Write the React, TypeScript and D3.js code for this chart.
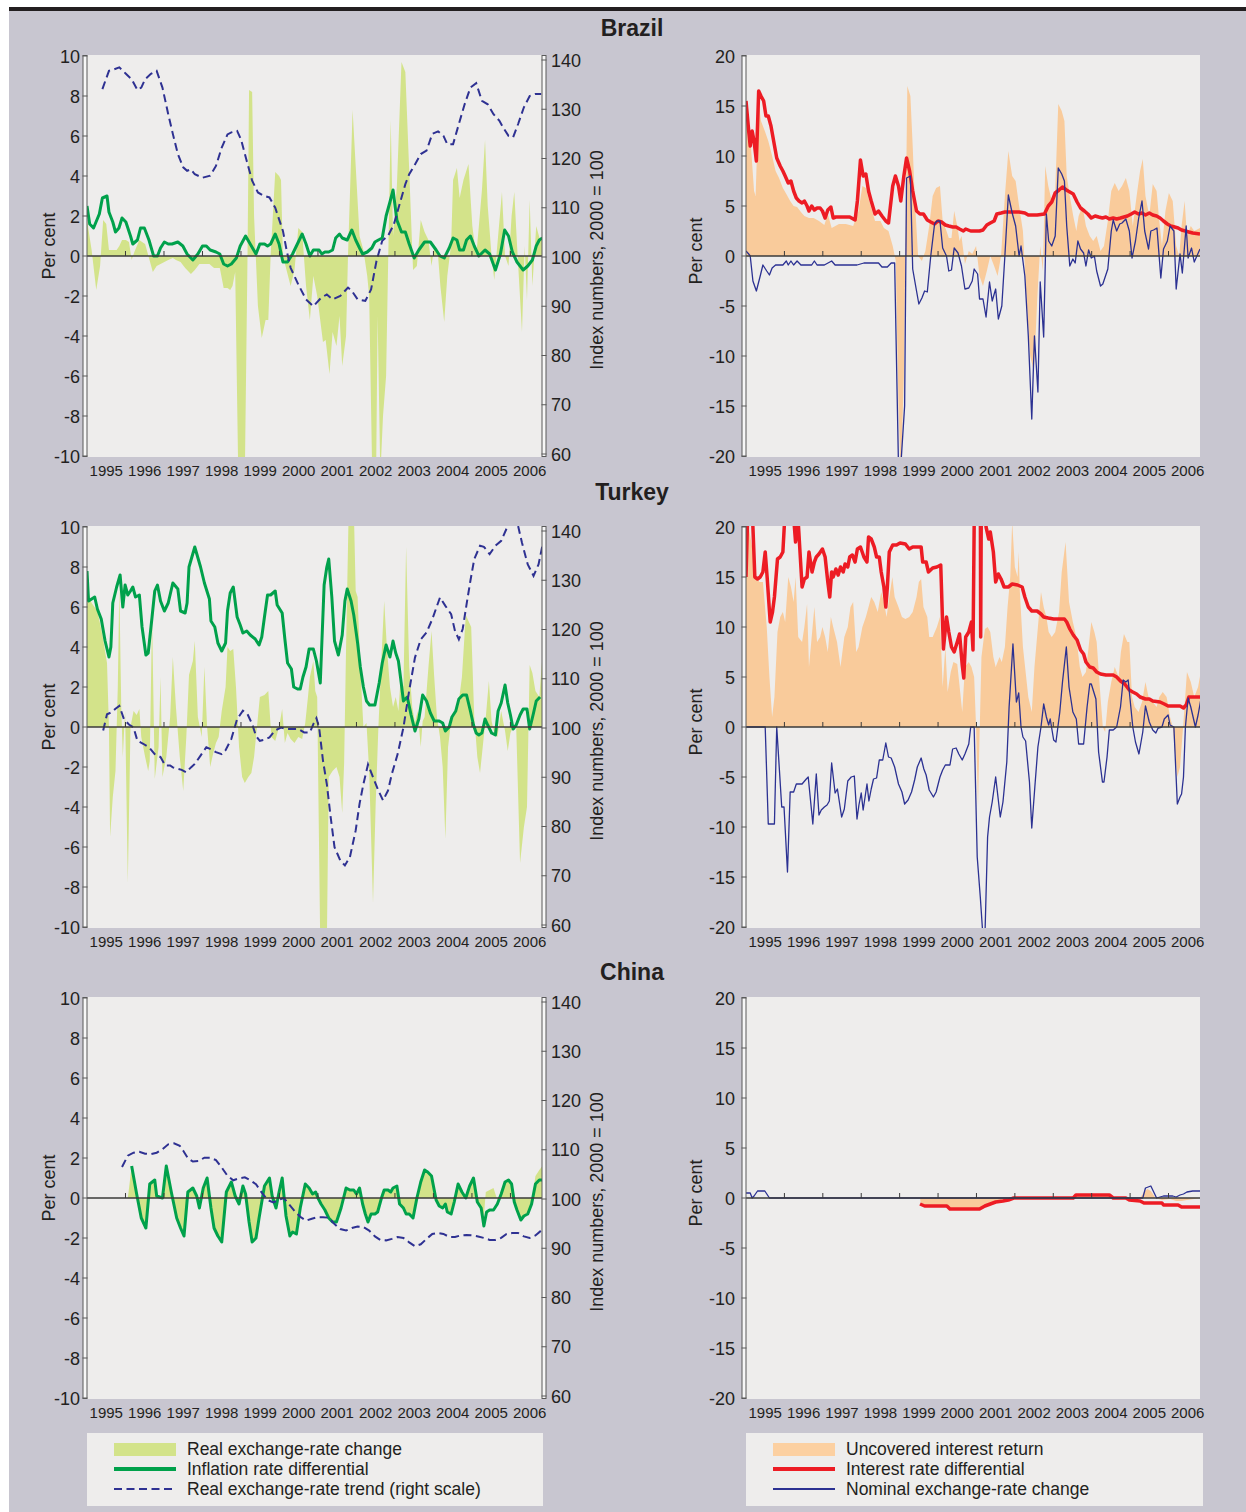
import { useEffect, useRef } from 'react';
import * as d3 from 'd3';

// each point: [years since Jan 1995, value]
type Pt = [number, number];

const YEARS = [1995, 1996, 1997, 1998, 1999, 2000, 2001, 2002, 2003, 2004, 2005, 2006];
const T_END = 11.82;
const PCT_TICKS = [-10, -8, -6, -4, -2, 0, 2, 4, 6, 8, 10];
const INDEX_TICKS = [60, 70, 80, 90, 100, 110, 120, 130, 140];
const RATE_TICKS = [-20, -15, -10, -5, 0, 5, 10, 15, 20];
const COUNTRIES = ['Brazil', 'Turkey', 'China'];

const LEFT_LEGEND = ['Real exchange-rate change', 'Inflation rate differential', 'Real exchange-rate trend (right scale)'];
const RIGHT_LEGEND = ['Uncovered interest return', 'Interest rate differential', 'Nominal exchange-rate change'];

// ── Brazil ─────────────────────────────────────────────
const brazilRealChange: Pt[] = [[0,1.8],[0.12,0.3],[0.24,-1.7],[0.34,-0.5],[0.42,1.8],[0.5,1.6],[0.57,0.3],[0.67,0.3],[0.77,0.3],[0.84,0.5],[0.91,0.8],[1.01,0.8],[1.09,0.7],[1.16,-0.2],[1.23,0.2],[1.36,0.8],[1.43,0.7],[1.51,0.6],[1.61,-0.1],[1.71,-0.8],[1.81,-0.5],[1.91,-0.4],[2.01,-0.3],[2.11,-0.2],[2.23,-0.1],[2.31,-0.2],[2.43,-0.3],[2.55,-0.6],[2.7,-0.9],[2.8,-0.7],[2.92,-0.4],[3.05,-0.4],[3.18,-0.4],[3.3,-0.6],[3.45,-0.6],[3.55,-1.6],[3.65,-1.6],[3.72,-1.7],[3.78,-1.5],[3.85,-0.8],[3.93,-11],[4.1,-11],[4.17,0],[4.21,8.3],[4.29,8.2],[4.34,2],[4.44,-2.5],[4.54,-4.1],[4.64,-3.2],[4.71,-3.2],[4.77,0],[4.89,4.2],[4.99,4],[5.04,3.8],[5.09,0],[5.29,-1.5],[5.39,-0.7],[5.49,1.4],[5.59,1.2],[5.69,-1.5],[5.79,-3.2],[5.88,-1],[5.98,-2],[6.13,-4.3],[6.2,-4.2],[6.3,-5.9],[6.38,-3.8],[6.48,-4.5],[6.56,-3],[6.63,-5.5],[6.73,-4],[6.78,0],[6.9,7.3],[6.98,4.5],[7.08,1],[7.18,0.3],[7.28,-1],[7.33,-2],[7.41,-11],[7.51,-11],[7.55,-3],[7.62,-11],[7.69,-8],[7.77,-6],[7.89,6.8],[7.95,1],[8.05,3.5],[8.17,9.7],[8.27,9.2],[8.37,4.3],[8.47,-0.7],[8.57,-0.5],[8.67,1.8],[8.77,1.2],[8.87,0.8],[8.95,-0.5],[9.02,0.5],[9.12,0],[9.18,-1.5],[9.28,-3.3],[9.36,-1],[9.46,0.6],[9.51,3.8],[9.61,4.4],[9.68,2.9],[9.78,3.8],[9.91,4.6],[10.01,1.5],[10.11,0],[10.18,1.5],[10.26,3.3],[10.34,5.8],[10.41,2.5],[10.51,0],[10.58,-1.2],[10.68,1],[10.78,3.2],[10.86,0],[10.95,-0.5],[11.03,2],[11.1,3.2],[11.17,0.6],[11.3,-3.8],[11.37,0.5],[11.43,-2.2],[11.5,2.8],[11.57,-1.5],[11.67,1.5],[11.77,0.8],[11.83,0.9]];
const brazilInflationDiff: Pt[] = [[0,2.5],[0.07,1.6],[0.17,1.4],[0.32,2.1],[0.4,2.9],[0.52,3],[0.57,2.2],[0.67,1.7],[0.74,1.2],[0.83,1.4],[0.91,1.9],[1.01,1.7],[1.13,1],[1.19,0.6],[1.31,0.8],[1.39,1.4],[1.49,1.4],[1.61,0.8],[1.73,0],[1.83,0],[1.91,0.4],[2.01,0.7],[2.11,0.6],[2.21,0.6],[2.36,0.7],[2.49,0.5],[2.6,0.1],[2.75,-0.2],[2.88,0.1],[3,0.5],[3.1,0.5],[3.2,0.3],[3.35,0.2],[3.45,0.1],[3.55,-0.4],[3.65,-0.5],[3.75,-0.4],[3.88,-0.1],[3.98,0.5],[4.12,1],[4.24,0.6],[4.39,0.1],[4.49,0.6],[4.61,0.6],[4.69,0.5],[4.77,0.6],[4.89,1.1],[4.99,0.6],[5.09,-0.3],[5.21,-0.3],[5.34,0.1],[5.49,0.7],[5.59,1.1],[5.69,0.6],[5.79,0],[5.88,0.3],[6.03,0.3],[6.1,0.1],[6.18,0.2],[6.28,0.2],[6.38,0.3],[6.46,0.9],[6.56,1.1],[6.63,0.9],[6.76,0.8],[6.88,1.3],[6.98,0.8],[7.08,0.4],[7.16,0.1],[7.28,0.2],[7.4,0.4],[7.48,0.7],[7.57,0.8],[7.67,0.9],[7.77,2],[7.87,2.7],[7.95,3.3],[8.05,1.8],[8.17,1.2],[8.27,1.2],[8.37,0.6],[8.5,-0.1],[8.62,0.3],[8.77,0.7],[8.92,0.7],[9.07,0.3],[9.17,0],[9.28,-0.1],[9.41,0.4],[9.51,0.9],[9.61,0.8],[9.68,0.3],[9.78,0.3],[9.86,0.8],[9.96,1],[10.06,0.5],[10.18,0],[10.34,0.3],[10.46,0.1],[10.61,-0.7],[10.74,0.1],[10.85,1.3],[10.95,1],[11.05,0.2],[11.17,-0.3],[11.33,-0.7],[11.45,-0.5],[11.57,-0.2],[11.67,0.5],[11.75,0.8],[11.83,0.9]];
const brazilRealTrend: Pt[] = [[0.4,134.1],[0.57,137.8],[0.67,138],[0.84,138.5],[1.01,137.2],[1.16,136.1],[1.31,133.9],[1.41,134.4],[1.51,136.1],[1.66,137.2],[1.81,137.8],[1.96,134.4],[2.11,129],[2.23,125],[2.36,120.9],[2.5,118.2],[2.6,117.5],[2.7,117.8],[2.8,116.8],[3,116.1],[3.2,116.5],[3.35,118.5],[3.5,122.2],[3.65,124.9],[3.75,125.3],[3.9,125.6],[4,123.9],[4.15,119.5],[4.29,115.5],[4.44,113.1],[4.59,112.4],[4.74,112.1],[4.89,110],[5.09,105.3],[5.19,101.2],[5.29,97.8],[5.49,94.4],[5.69,91.4],[5.88,90],[6.08,91.7],[6.23,92.4],[6.38,91.4],[6.58,92.1],[6.78,93.8],[6.88,93.1],[7.03,91.4],[7.23,91.1],[7.38,93.4],[7.52,99.2],[7.67,103.3],[7.82,104.3],[7.97,106.6],[8.12,110.7],[8.27,114.8],[8.37,116.8],[8.52,118.8],[8.67,120.9],[8.82,121.6],[8.97,125],[9.12,125.5],[9.26,124.6],[9.36,122.9],[9.51,122.9],[9.66,127],[9.81,131],[9.96,134.4],[10.11,135.3],[10.26,131.7],[10.41,131],[10.56,129],[10.71,127.7],[10.81,126.3],[10.95,124.6],[11.07,124.3],[11.2,127],[11.35,130.4],[11.5,132.7],[11.65,133.1],[11.8,133.1]];
const brazilUncoveredReturn: Pt[] = [[0,15],[0.05,11.5],[0.11,12],[0.21,6.5],[0.25,6],[0.33,15.5],[0.39,13.5],[0.49,12.5],[0.58,11.5],[0.68,10],[0.77,8.5],[0.86,7.8],[0.96,6.8],[1.05,6.2],[1.15,5.5],[1.24,5],[1.33,4.9],[1.43,4.4],[1.52,4],[1.64,3.8],[1.76,3.8],[1.9,3.5],[2.04,3.1],[2.13,4.2],[2.23,2.8],[2.42,3.2],[2.6,3.2],[2.79,3],[2.93,4.5],[3.03,7],[3.12,6.8],[3.21,5.5],[3.36,3.5],[3.5,3.5],[3.59,2.8],[3.71,2.5],[3.82,1],[3.9,-0.5],[3.92,-5],[3.97,-15],[4.03,-22],[4.11,-12],[4.15,1],[4.2,17],[4.28,16],[4.34,11],[4.39,6],[4.48,0],[4.58,-0.5],[4.67,0.5],[4.77,3],[4.86,6],[4.95,6.8],[5.05,7],[5.12,3.5],[5.22,2.5],[5.28,1.8],[5.35,1.8],[5.42,4.5],[5.5,3],[5.56,1.5],[5.61,2],[5.7,-0.8],[5.8,0.5],[5.89,0.2],[5.99,1],[6.08,-2],[6.17,-3],[6.27,-1.5],[6.36,0],[6.46,-1],[6.55,-2],[6.64,0],[6.74,6],[6.83,10.5],[6.93,8],[7.02,7.5],[7.11,5],[7.21,2.5],[7.3,-4],[7.4,-10],[7.49,-11.5],[7.54,-8],[7.58,-4.5],[7.66,1],[7.73,-1.5],[7.79,9],[7.87,7],[7.96,5.5],[8.05,6.5],[8.13,15.2],[8.22,14.5],[8.29,13.5],[8.35,8],[8.43,6],[8.52,4],[8.6,2.5],[8.66,4],[8.76,5],[8.85,3],[8.95,2],[9.04,1.5],[9.13,2],[9.23,0.5],[9.32,1],[9.42,3.5],[9.51,6.5],[9.6,7.3],[9.7,6.5],[9.79,7],[9.89,7.8],[9.98,6.5],[10.07,3],[10.17,6],[10.26,8.5],[10.33,9.7],[10.4,6],[10.5,4],[10.59,7.2],[10.69,6.5],[10.76,3.5],[10.83,1],[10.92,4.5],[11.01,6.3],[11.11,5.5],[11.2,1],[11.28,0],[11.34,3],[11.42,5.5],[11.48,2],[11.58,3],[11.67,2.5],[11.82,2.8]];
const brazilInterestDiff: Pt[] = [[0,15.5],[0.07,12.5],[0.11,11],[0.16,12.5],[0.21,11.5],[0.27,9.5],[0.33,16.5],[0.39,16],[0.46,15.5],[0.52,14],[0.58,14],[0.65,13],[0.72,11.5],[0.8,9.8],[0.89,9],[0.96,8.5],[1.02,8],[1.1,7.3],[1.17,7.5],[1.24,6.5],[1.31,5.8],[1.38,5.5],[1.46,5.3],[1.52,5.5],[1.59,5],[1.64,4.5],[1.71,5],[1.78,4.6],[1.85,4.8],[1.93,4.8],[1.99,4.5],[2.06,3.8],[2.13,4.6],[2.21,4.9],[2.27,3.8],[2.34,3.9],[2.51,3.9],[2.7,3.9],[2.84,3.6],[2.9,5.5],[2.98,9.6],[3.05,8],[3.12,8.2],[3.19,6.5],[3.26,5.5],[3.36,4.2],[3.45,4.5],[3.54,4],[3.64,3.5],[3.71,3.3],[3.82,7],[3.89,8],[3.97,7],[4.03,5.5],[4.11,8],[4.18,9.8],[4.26,8.5],[4.34,6.5],[4.44,4.5],[4.53,4.2],[4.62,4.2],[4.72,3.6],[4.81,3.4],[4.91,3.2],[5,3.5],[5.09,3.4],[5.19,3.1],[5.28,3],[5.38,2.9],[5.47,2.9],[5.56,2.7],[5.66,2.5],[5.72,2.7],[5.85,2.5],[5.99,2.5],[6.08,2.5],[6.17,2.6],[6.27,3.1],[6.36,3.3],[6.46,3.5],[6.53,4.2],[6.64,4.3],[6.74,4.4],[6.93,4.4],[7.11,4.4],[7.26,4.3],[7.35,4.1],[7.58,4.1],[7.77,4.2],[7.87,5],[7.96,5.4],[8.05,6.3],[8.15,6.6],[8.24,6.9],[8.34,6.6],[8.43,6.4],[8.52,6.2],[8.62,5.4],[8.71,4.8],[8.81,4.5],[8.9,4.2],[8.99,3.8],[9.09,4],[9.18,3.9],[9.28,3.8],[9.37,3.9],[9.46,3.7],[9.56,3.8],[9.65,3.7],[9.75,3.8],[9.84,3.9],[9.93,4],[10.03,4.2],[10.12,4.4],[10.22,4.2],[10.31,4.3],[10.4,4.1],[10.5,4.3],[10.59,4.1],[10.69,4],[10.78,3.8],[10.87,3.5],[10.97,3.2],[11.06,3],[11.16,2.9],[11.25,2.8],[11.34,2.6],[11.44,2.5],[11.53,2.4],[11.63,2.3],[11.82,2.2]];
const brazilNominalChange: Pt[] = [[0,0.5],[0.07,0.2],[0.11,0],[0.18,-2.5],[0.27,-3.5],[0.37,-2],[0.44,-0.9],[0.54,-1.5],[0.61,-1.9],[0.68,-1.2],[0.77,-0.9],[0.96,-0.9],[1.05,-0.5],[1.1,-0.9],[1.17,-0.5],[1.24,-0.9],[1.33,-0.5],[1.43,-0.9],[1.57,-0.9],[1.71,-0.9],[1.78,-0.5],[1.85,-0.9],[2.04,-0.9],[2.23,-0.5],[2.32,-0.9],[2.6,-0.9],[2.89,-0.9],[3.07,-0.7],[3.26,-0.7],[3.45,-0.7],[3.54,-1.1],[3.68,-1.1],[3.78,-0.7],[3.87,-0.7],[3.97,-21],[4.03,-21],[4.13,-15],[4.18,7.8],[4.28,8],[4.34,-1.3],[4.44,-3.5],[4.5,-4.8],[4.58,-4.2],[4.65,-3.5],[4.72,-3.6],[4.81,0],[4.91,3.2],[4.97,3.5],[5.05,3.5],[5.12,0.8],[5.22,0],[5.28,-1.5],[5.35,-1.4],[5.42,0.8],[5.52,0.3],[5.61,-1],[5.7,-3.3],[5.8,-3.2],[5.89,-2.5],[5.94,-1.3],[6.03,-1.8],[6.08,-4.3],[6.17,-4.3],[6.25,-6.1],[6.34,-2.6],[6.41,-4.5],[6.5,-3.3],[6.57,-6.3],[6.66,-5],[6.74,0],[6.83,6.1],[6.93,4.3],[7.02,3],[7.11,0],[7.16,1],[7.26,-2],[7.35,-8],[7.44,-16.3],[7.51,-8],[7.6,-13.6],[7.66,-2.6],[7.75,-8.1],[7.82,4.2],[7.88,1.5],[7.96,1],[8.05,2],[8.13,8.8],[8.22,8.2],[8.29,7.5],[8.35,3],[8.43,-1],[8.51,-0.3],[8.57,-0.7],[8.64,1.5],[8.71,0.7],[8.79,0.3],[8.85,-1],[8.92,0.6],[8.99,-0.2],[9.07,0],[9.13,-1.5],[9.23,-3],[9.29,-2.8],[9.42,-1.3],[9.51,2.5],[9.56,3.6],[9.65,2.5],[9.73,3.2],[9.79,3.3],[9.89,3.7],[9.98,2.5],[10.05,-0.2],[10.14,1.5],[10.22,3.7],[10.31,5.5],[10.38,2.5],[10.48,0.7],[10.54,2.5],[10.61,2.6],[10.7,2.8],[10.8,-2.2],[10.87,0.7],[10.97,1.5],[11.04,3],[11.14,2.5],[11.2,-3.3],[11.3,0.2],[11.36,-1.7],[11.46,3],[11.51,-0.2],[11.6,0.8],[11.67,-0.6],[11.82,0.7]];

// ── Turkey ─────────────────────────────────────────────
const turkeyRealChange: Pt[] = [[0,7],[0.12,6.2],[0.27,5.8],[0.4,4.6],[0.52,3.2],[0.57,0],[0.6,-5.5],[0.67,-3.5],[0.74,-2.2],[0.8,2],[0.84,7],[0.89,1],[0.93,-1.5],[0.99,0.8],[1.06,-7.8],[1.13,0],[1.21,0.8],[1.29,0.6],[1.36,0.9],[1.41,-0.5],[1.51,-1.5],[1.59,-2.2],[1.63,-1.7],[1.69,5.6],[1.76,-2.6],[1.86,-1],[1.91,2.5],[1.96,-2.5],[2.06,-1.5],[2.16,0.5],[2.23,3.5],[2.31,1],[2.41,-1.5],[2.5,-3.2],[2.58,-0.5],[2.65,2.6],[2.75,3.3],[2.8,4.3],[2.88,0.5],[2.98,-0.5],[3.05,3],[3.12,0],[3.2,-2],[3.28,-1.3],[3.35,-0.8],[3.42,-0.5],[3.5,0.8],[3.6,2],[3.65,4],[3.72,3.8],[3.8,3.9],[3.87,2],[3.95,-1],[4.03,-2.5],[4.1,-2.8],[4.19,-2.5],[4.27,-2.3],[4.34,-1.5],[4.49,1.5],[4.61,1.6],[4.71,1.8],[4.79,-0.5],[4.89,-0.7],[4.99,0],[5.07,0.9],[5.14,-0.8],[5.21,-0.3],[5.29,-0.6],[5.39,-0.8],[5.49,-0.5],[5.59,-0.6],[5.67,0.2],[5.74,1.5],[5.79,2.5],[5.88,3.3],[5.93,1.8],[5.98,1.5],[6.06,-11],[6.23,-11],[6.28,-2.5],[6.38,-2.2],[6.48,-2],[6.56,-2.5],[6.63,-4.3],[6.68,-1.8],[6.73,4],[6.8,11],[6.93,11],[6.98,6.8],[7.03,6.5],[7.1,3],[7.18,0],[7.26,0.2],[7.33,-2.2],[7.43,-8.8],[7.5,-3.8],[7.57,0],[7.65,3.5],[7.72,6.3],[7.79,4],[7.87,2],[7.95,1],[8.02,1.5],[8.09,0.8],[8.15,2.5],[8.22,2],[8.29,9],[8.37,3],[8.45,1],[8.52,0.2],[8.59,0.8],[8.67,-1],[8.72,0.3],[8.77,0.5],[8.87,3],[8.95,4.8],[9.02,2.5],[9.09,0.5],[9.17,-0.5],[9.24,-2],[9.31,-5.6],[9.38,-1],[9.44,0],[9.51,0.5],[9.64,1],[9.74,2.5],[9.84,5.6],[9.91,5.3],[9.98,5],[10.06,0.5],[10.14,-1.5],[10.21,-2.3],[10.28,-1],[10.36,0.5],[10.44,2.3],[10.51,0.3],[10.58,-0.3],[10.66,-0.5],[10.76,0.8],[10.86,-0.2],[10.93,-1.2],[11,-0.3],[11.07,0],[11.15,0],[11.25,-6.8],[11.35,-5],[11.43,-4],[11.5,3.1],[11.57,2.7],[11.65,1.8],[11.75,1.5],[11.83,3.5]];
const turkeyInflationDiff: Pt[] = [[0,7.8],[0.04,6.3],[0.12,6.4],[0.2,6.5],[0.27,5.9],[0.37,5.4],[0.47,4.3],[0.57,3.5],[0.62,4],[0.67,6.2],[0.77,7],[0.86,7.6],[0.93,6],[0.99,7.1],[1.06,6.6],[1.13,6.8],[1.19,7],[1.26,6.5],[1.36,6.6],[1.43,5],[1.53,3.6],[1.59,3.7],[1.69,5.5],[1.76,6.8],[1.83,7.1],[1.91,6.3],[2.01,5.8],[2.11,6.2],[2.23,7.2],[2.36,6.9],[2.43,5.8],[2.55,5.7],[2.6,6.2],[2.65,8],[2.8,9],[2.95,8],[3.05,7.2],[3.18,6.4],[3.22,5.3],[3.32,5],[3.4,4.2],[3.5,3.8],[3.6,4.2],[3.65,5.8],[3.72,6.7],[3.8,7],[3.9,5.5],[3.98,5.1],[4.05,4.7],[4.15,4.8],[4.24,4.6],[4.37,4.4],[4.47,4.1],[4.54,4.5],[4.61,5.5],[4.69,6.6],[4.77,6.6],[4.89,6.8],[4.94,6.1],[5.07,5.7],[5.14,4.4],[5.21,3.2],[5.31,2.9],[5.37,2],[5.47,1.9],[5.54,1.9],[5.61,2.5],[5.69,3],[5.77,3.9],[5.88,3.9],[5.96,3.3],[6.06,2.2],[6.16,7.1],[6.23,8],[6.28,8.4],[6.36,6.5],[6.43,4.3],[6.53,3.6],[6.63,4.6],[6.7,6.3],[6.76,6.9],[6.86,6.3],[6.93,5.6],[7.03,4.2],[7.1,3],[7.18,2],[7.26,1.3],[7.34,1.1],[7.48,1.1],[7.59,2.2],[7.67,3.2],[7.77,4.1],[7.87,3.5],[7.95,4.3],[8.02,3.7],[8.09,3.3],[8.15,2.4],[8.22,1.3],[8.32,1.5],[8.42,0.6],[8.52,-0.2],[8.62,0.4],[8.72,1.6],[8.82,1.3],[8.92,0.7],[9.02,0.3],[9.15,0.3],[9.24,0.2],[9.31,-0.2],[9.41,0],[9.48,0.5],[9.58,0.8],[9.66,1.4],[9.76,1.6],[9.86,1.6],[9.96,0.8],[10.04,0.1],[10.11,-0.3],[10.18,-0.4],[10.26,-0.3],[10.34,0.4],[10.41,0.1],[10.51,-0.3],[10.61,-0.4],[10.68,0.8],[10.76,1.2],[10.86,2.1],[10.93,1.2],[11,0.6],[11.07,-0.1],[11.15,0.1],[11.25,0.6],[11.33,0.9],[11.43,0.9],[11.5,-0.1],[11.6,0.7],[11.67,1.3],[11.77,1.5]];
const turkeyRealTrend: Pt[] = [[0.42,99.5],[0.52,102.8],[0.64,103.2],[0.74,103.9],[0.84,104.5],[0.96,101.8],[1.09,100.7],[1.21,100.1],[1.31,97.4],[1.46,96.8],[1.61,96.1],[1.76,94.7],[1.91,94.1],[2.03,92.4],[2.16,92.4],[2.23,92],[2.36,91.7],[2.46,91.5],[2.58,91],[2.7,92],[2.8,92.7],[2.95,94.4],[3.1,96.1],[3.22,95.7],[3.35,95.1],[3.5,94.7],[3.6,95.5],[3.75,97.8],[3.9,101.8],[4.05,103.5],[4.17,102.8],[4.29,100.8],[4.39,98.4],[4.49,97.4],[4.61,97.6],[4.74,98.1],[4.89,99.5],[5.04,100.1],[5.19,99.8],[5.34,99.8],[5.49,99.8],[5.64,99.1],[5.79,99.1],[5.88,100.8],[5.96,102],[6.03,100.1],[6.13,93.4],[6.23,88.6],[6.33,81.9],[6.43,75.8],[6.58,73.1],[6.7,72.1],[6.83,73.8],[6.98,79.2],[7.08,84.6],[7.18,88.6],[7.3,92.6],[7.43,90],[7.57,87.3],[7.69,85.3],[7.82,87.3],[7.92,90.7],[8.07,94.7],[8.22,100.1],[8.37,107.6],[8.52,114.3],[8.67,118],[8.82,119.4],[8.97,122.1],[9.17,126.5],[9.31,124.8],[9.46,123.1],[9.56,119.7],[9.66,118],[9.76,120.1],[9.86,125.1],[9.96,129.9],[10.06,134.3],[10.21,137],[10.31,136.8],[10.46,135.3],[10.61,137],[10.76,138],[10.9,140.5],[11.05,142],[11.2,141],[11.3,137.6],[11.45,133.2],[11.6,130.9],[11.73,133.2],[11.83,137]];
const turkeyUncoveredReturn: Pt[] = [[0,15],[0.07,20],[0.16,18],[0.25,15],[0.35,14.5],[0.44,14.5],[0.54,10],[0.61,5],[0.68,1],[0.74,3],[0.82,9.5],[0.89,11],[0.96,11.5],[1.02,10.5],[1.1,15],[1.17,14],[1.24,12.5],[1.29,15],[1.36,9],[1.46,8.5],[1.52,10],[1.59,12.3],[1.64,6],[1.71,9],[1.78,12],[1.85,8.5],[1.93,9],[1.99,10],[2.06,9],[2.13,7.5],[2.21,11],[2.27,10],[2.37,8.5],[2.46,6],[2.56,9],[2.65,10],[2.72,12],[2.79,12.5],[2.87,7.5],[2.93,8],[3.03,10],[3.12,11],[3.19,12],[3.26,13],[3.34,12.5],[3.43,11.5],[3.52,13.5],[3.59,12.5],[3.66,11],[3.73,13],[3.81,15],[3.87,13],[3.97,12],[4.06,11],[4.15,10.8],[4.25,11],[4.34,11.5],[4.44,13],[4.5,14.5],[4.56,14.8],[4.62,12],[4.72,11],[4.77,9],[4.86,9],[4.97,10],[5.05,11],[5.12,4],[5.19,8],[5.25,3.5],[5.33,5.5],[5.4,6.5],[5.5,6.3],[5.59,3],[5.63,1.5],[5.7,6],[5.8,6.5],[5.87,6],[5.94,5],[5.99,0],[6.04,-8],[6.08,-1],[6.13,7],[6.22,9.8],[6.29,10],[6.36,9.5],[6.44,7],[6.5,6],[6.6,7],[6.66,6.5],[6.74,8],[6.81,12],[6.88,15],[6.93,20.5],[7,16],[7.07,15],[7.1,17.5],[7.13,13.5],[7.21,8],[7.28,5.5],[7.35,3],[7.44,1.5],[7.51,6],[7.6,10],[7.68,13.5],[7.75,12],[7.82,11],[7.88,9.5],[7.96,9],[8.05,9.5],[8.15,11.5],[8.22,15.5],[8.32,18.5],[8.41,12.5],[8.51,10.5],[8.6,9],[8.69,6],[8.76,5],[8.85,5.5],[8.92,8],[8.99,10.5],[9.07,9.5],[9.13,8.5],[9.23,3],[9.29,0],[9.35,-0.5],[9.42,2.5],[9.51,4.5],[9.6,6],[9.7,5],[9.76,7.5],[9.84,9.3],[9.93,8.5],[9.98,8.5],[10.05,3],[10.12,2],[10.22,1.5],[10.31,2.5],[10.4,4.5],[10.48,3],[10.59,2.5],[10.69,2],[10.76,3],[10.85,3.5],[10.95,3],[11.04,1],[11.11,0],[11.17,-2.5],[11.23,-5],[11.3,-4],[11.39,0.5],[11.48,5.5],[11.58,4.5],[11.67,3],[11.77,4],[11.84,5.5]];
const turkeyInterestDiff: Pt[] = [[0,15],[0.05,22],[0.16,22],[0.23,15],[0.3,14.8],[0.37,15],[0.44,15.5],[0.5,17.5],[0.55,15],[0.63,10.5],[0.69,11.5],[0.74,13],[0.82,16.8],[0.89,17],[0.96,17.5],[1.01,21],[1.1,22],[1.24,21],[1.29,18.5],[1.36,20.5],[1.46,14],[1.52,14.8],[1.59,15],[1.64,17.5],[1.72,15.5],[1.78,16.5],[1.83,17],[1.9,17.3],[1.99,17.8],[2.06,17],[2.13,14.5],[2.18,13],[2.23,15.5],[2.27,15],[2.34,15.8],[2.4,15.2],[2.46,16],[2.53,15.5],[2.58,16.3],[2.65,16],[2.7,17],[2.77,17.2],[2.84,16.5],[2.9,17.8],[2.98,18],[3.07,17],[3.15,16.5],[3.19,19],[3.26,18.8],[3.34,18],[3.4,17],[3.47,17],[3.52,15.5],[3.59,14],[3.64,12],[3.68,14],[3.73,17.5],[3.82,18.2],[3.92,18.2],[4.01,18.4],[4.15,18.3],[4.25,17.8],[4.34,18],[4.48,18],[4.56,18],[4.6,16.5],[4.69,16.5],[4.75,15.5],[4.86,15.9],[4.97,16],[5.07,16.2],[5.14,7.8],[5.22,11],[5.28,9.5],[5.35,8],[5.42,7.5],[5.5,8.5],[5.56,9.3],[5.63,6.2],[5.67,4.9],[5.72,9],[5.8,9.5],[5.87,10.5],[5.91,7.7],[5.94,20],[5.97,25],[6.1,25],[6.11,9],[6.13,25],[6.2,25],[6.25,20],[6.32,18.8],[6.36,19.5],[6.44,17.5],[6.5,14.5],[6.57,15.3],[6.64,14.8],[6.72,14],[6.83,14],[6.93,14.3],[7.07,14.2],[7.19,14],[7.26,13],[7.35,12],[7.44,11.6],[7.58,11.6],[7.68,11.3],[7.75,11],[7.87,10.9],[8.01,10.8],[8.15,10.8],[8.29,10.8],[8.35,10.5],[8.43,9.8],[8.52,9.2],[8.62,8.7],[8.71,7.7],[8.79,7.3],[8.85,6.5],[8.95,6],[9.04,5.9],[9.13,5.5],[9.23,5.3],[9.37,5.2],[9.56,5.2],[9.65,5],[9.75,4.6],[9.86,4.3],[9.98,3.7],[10.07,3.5],[10.17,3.3],[10.26,3],[10.4,2.8],[10.5,2.8],[10.59,2.6],[10.78,2.5],[10.89,2.3],[10.99,2.1],[11.14,2.1],[11.3,2.1],[11.39,1.9],[11.46,2.2],[11.53,3],[11.67,3],[11.84,3]];
const turkeyNominalChange: Pt[] = [[0,0],[0.5,0],[0.58,-9.7],[0.74,-9.7],[0.8,0],[0.93,-8],[0.99,-8],[1.08,-14.5],[1.15,-6.5],[1.24,-6.5],[1.31,-5.7],[1.46,-5.7],[1.57,-5.2],[1.62,-5],[1.74,-9.7],[1.83,-4.7],[1.9,-8.8],[1.96,-8.3],[2.04,-8],[2.11,-7.8],[2.17,-7.4],[2.23,-3.6],[2.32,-6.6],[2.38,-6.2],[2.49,-9],[2.56,-8.2],[2.65,-5.4],[2.74,-5],[2.82,-4.9],[2.89,-9.2],[2.94,-7.8],[3,-6.6],[3.05,-8.3],[3.15,-5.7],[3.2,-7.4],[3.26,-6.2],[3.32,-5.2],[3.4,-5.1],[3.47,-3.3],[3.56,-3.3],[3.64,-1.6],[3.71,-3],[3.78,-3.1],[3.87,-4],[3.97,-5.7],[4.06,-6.5],[4.13,-7.7],[4.22,-7.3],[4.31,-6.5],[4.39,-5.3],[4.46,-4],[4.56,-3.1],[4.63,-4.2],[4.69,-4.8],[4.77,-6.3],[4.88,-7],[4.95,-6.5],[5.05,-5],[5.12,-4.3],[5.19,-3.8],[5.31,-3.8],[5.38,-2.2],[5.47,-2.1],[5.54,-2.7],[5.63,-3.3],[5.7,-2.7],[5.8,-1.7],[5.85,0],[5.94,0],[6.02,-13],[6.1,-17],[6.17,-21],[6.22,-21],[6.29,-11],[6.34,-9],[6.41,-7.5],[6.5,-5],[6.62,-9],[6.69,-7.5],[6.79,-3.5],[6.85,2],[6.95,8.3],[7.04,2.5],[7.1,3.4],[7.16,0],[7.21,-1],[7.28,-1.4],[7.38,-5.5],[7.44,-10.1],[7.52,-6],[7.6,-2],[7.68,0],[7.75,2.3],[7.82,1],[7.88,0.2],[7.92,0.8],[8.01,-1.3],[8.07,-1.5],[8.17,1.5],[8.24,4.5],[8.34,8],[8.41,4],[8.51,1.5],[8.6,0.8],[8.66,-1.7],[8.79,-1.7],[8.88,2],[8.95,4.3],[8.99,4.3],[9.11,2.8],[9.18,-2.5],[9.28,-5.5],[9.32,-5.5],[9.4,-3],[9.46,-0.3],[9.56,-0.3],[9.65,0],[9.75,2],[9.82,4.7],[9.89,4.5],[9.95,4.7],[10.07,0],[10.14,-1.5],[10.23,-2.7],[10.33,-0.5],[10.4,2.1],[10.5,0.5],[10.59,-0.3],[10.67,-0.6],[10.73,-0.1],[10.83,0],[10.89,0.8],[10.99,1.2],[11.04,0.2],[11.14,0],[11.23,-7.7],[11.3,-7],[11.34,-6.7],[11.39,-5],[11.44,0],[11.51,2.9],[11.58,2],[11.7,0],[11.77,1.2],[11.84,2.7]];

// ── China ──────────────────────────────────────────────
const chinaRealChange: Pt[] = [[1.06,0],[1.08,0.3],[1.16,1.6],[1.29,0.2],[1.41,-1],[1.53,-1.5],[1.63,0.7],[1.76,0.9],[1.81,0.1],[1.96,0],[2.06,1.6],[2.19,0.3],[2.33,-1],[2.43,-1.5],[2.52,-1.9],[2.62,0.3],[2.75,0.5],[2.85,0.1],[2.92,-0.5],[3.02,0.5],[3.12,1],[3.22,-0.5],[3.3,-1.5],[3.4,-1.9],[3.5,-2.2],[3.62,0.3],[3.75,0.8],[3.85,0.1],[3.95,-0.3],[4.05,0.6],[4.12,0.2],[4.21,-1.2],[4.29,-2.2],[4.39,-2],[4.47,-1],[4.61,0.6],[4.74,1],[4.81,0.1],[4.91,-0.5],[4.99,0.3],[5.07,1],[5.17,-0.9],[5.27,-1.9],[5.34,-1.7],[5.44,-1.8],[5.54,-0.5],[5.67,0.7],[5.77,0.5],[5.86,0.2],[5.94,0.3],[6,0],[6.08,-0.3],[6.18,-0.6],[6.28,-1],[6.38,-1.2],[6.48,-1.2],[6.6,-0.5],[6.73,0.5],[6.83,0.4],[6.93,0.4],[7,0.2],[7.08,0.5],[7.16,-0.3],[7.23,-0.8],[7.3,-1.2],[7.38,-0.8],[7.48,-0.8],[7.55,-0.7],[7.65,0],[7.72,0.4],[7.82,0.4],[7.89,0.3],[7.95,0.5],[8.05,0.6],[8.12,-0.3],[8.22,-0.5],[8.29,-0.8],[8.37,-0.8],[8.47,-1],[8.57,0],[8.67,0.8],[8.77,1.4],[8.85,1.3],[8.95,1.1],[9.07,-0.1],[9.15,-0.4],[9.24,-0.5],[9.31,-0.3],[9.36,-0.7],[9.46,-0.8],[9.54,-0.2],[9.64,0.7],[9.74,0.3],[9.84,0],[9.94,0.6],[10.04,1],[10.14,-0.2],[10.24,-0.5],[10.31,-0.9],[10.36,0.3],[10.46,0.4],[10.56,0.5],[10.66,-0.1],[10.76,0.2],[10.86,0.8],[10.95,0.9],[11.03,0.7],[11.1,-0.2],[11.17,-0.6],[11.27,-1.1],[11.35,-0.9],[11.45,-0.8],[11.55,-0.2],[11.65,1.1],[11.75,1.4],[11.83,1.6]];
const chinaInflationDiff: Pt[] = [[1.16,1.6],[1.29,0.2],[1.41,-1],[1.53,-1.5],[1.63,0.7],[1.76,0.9],[1.81,0.1],[1.96,0],[2.06,1.6],[2.19,0.3],[2.33,-1],[2.43,-1.5],[2.52,-1.9],[2.62,0.3],[2.75,0.5],[2.85,0.1],[2.92,-0.5],[3.02,0.5],[3.12,1],[3.22,-0.5],[3.3,-1.5],[3.4,-1.9],[3.5,-2.2],[3.62,0.3],[3.75,0.8],[3.85,0.1],[3.95,-0.3],[4.05,0.6],[4.12,0.2],[4.21,-1.2],[4.29,-2.2],[4.39,-2],[4.47,-1],[4.61,0.6],[4.74,1],[4.81,0.1],[4.91,-0.5],[4.99,0.3],[5.07,1],[5.17,-0.9],[5.27,-1.9],[5.34,-1.7],[5.44,-1.8],[5.54,-0.5],[5.67,0.7],[5.77,0.5],[5.86,0.2],[5.94,0.3],[6,0],[6.08,-0.3],[6.18,-0.6],[6.28,-1],[6.38,-1.2],[6.48,-1.2],[6.6,-0.5],[6.73,0.5],[6.83,0.4],[6.93,0.4],[7,0.2],[7.08,0.5],[7.16,-0.3],[7.23,-0.8],[7.3,-1.2],[7.38,-0.8],[7.48,-0.8],[7.55,-0.7],[7.65,0],[7.72,0.4],[7.82,0.4],[7.89,0.3],[7.95,0.5],[8.05,0.6],[8.12,-0.3],[8.22,-0.5],[8.29,-0.8],[8.37,-0.8],[8.47,-1],[8.57,0],[8.67,0.8],[8.77,1.4],[8.85,1.3],[8.95,1.1],[9.07,-0.1],[9.15,-0.4],[9.24,-0.5],[9.31,-0.3],[9.36,-0.7],[9.46,-0.8],[9.54,-0.2],[9.64,0.7],[9.74,0.3],[9.84,0],[9.94,0.6],[10.04,1],[10.14,-0.2],[10.24,-0.5],[10.31,-1.4],[10.38,-0.7],[10.46,-0.6],[10.56,-0.6],[10.66,-0.3],[10.76,0.2],[10.86,0.8],[10.95,0.9],[11.03,0.7],[11.1,-0.2],[11.17,-0.6],[11.27,-1.1],[11.35,-0.9],[11.45,-0.8],[11.55,-0.3],[11.65,0.7],[11.75,0.9],[11.83,0.9]];
const chinaRealTrend: Pt[] = [[0.91,106.5],[1.06,108.8],[1.21,109.4],[1.36,109.6],[1.51,109.2],[1.66,109.1],[1.81,109.4],[1.96,110.1],[2.11,111.1],[2.26,111.3],[2.41,110.8],[2.5,109.8],[2.62,108.3],[2.75,107.6],[2.9,107.7],[3.05,108.4],[3.2,108.4],[3.35,107.9],[3.5,106.4],[3.65,104.7],[3.8,103.8],[3.95,104.2],[4.1,104.4],[4.24,103.8],[4.39,103],[4.54,101.3],[4.69,99.8],[4.84,99.3],[4.99,99.9],[5.11,100.2],[5.24,99],[5.39,97.6],[5.54,96.4],[5.69,95.6],[5.84,96],[5.98,96.3],[6.13,96.3],[6.28,96.2],[6.43,94.9],[6.58,93.9],[6.73,93.6],[6.88,94.1],[7.03,94.4],[7.18,94.3],[7.33,93.6],[7.48,92.4],[7.62,91.7],[7.77,91.6],[7.92,91.9],[8.07,92.3],[8.22,92.1],[8.37,91.2],[8.52,90.4],[8.67,90.8],[8.82,91.9],[8.97,92.9],[9.12,93.1],[9.26,92.9],[9.41,92.3],[9.56,92.3],[9.71,92.6],[9.86,92.7],[10.01,92.6],[10.16,92.4],[10.31,92.1],[10.46,91.7],[10.61,91.7],[10.76,92.1],[10.9,92.9],[11.05,93.1],[11.2,93.1],[11.35,92.4],[11.5,92.1],[11.65,92.6],[11.8,93.6]];
const chinaUncoveredReturn: Pt[] = [[4.53,0],[4.55,-0.5],[4.65,-0.7],[5.23,-0.7],[5.31,-1],[6.08,-1],[6.22,-0.7],[6.36,-0.5],[6.5,-0.3],[6.69,-0.2],[6.83,-0.1],[6.97,0],[8.52,0],[8.59,0.2],[9.46,0.2],[9.56,0],[10.26,0],[10.36,0.6],[10.45,0.9],[10.54,0.7],[10.66,0],[10.83,-0.2],[11.04,-0.1],[11.2,-0.3],[11.34,-0.3],[11.48,-0.2],[11.67,-0.1],[11.84,0]];
const chinaInterestDiff: Pt[] = [[4.53,-0.6],[4.65,-0.8],[5.23,-0.8],[5.31,-1.1],[6.08,-1.1],[6.22,-0.8],[6.36,-0.6],[6.5,-0.4],[6.69,-0.3],[6.83,-0.2],[6.97,0],[8.52,0],[8.59,0.3],[9.46,0.3],[9.56,0],[9.89,0],[9.98,-0.2],[10.26,-0.3],[10.36,-0.5],[10.83,-0.5],[10.87,-0.7],[11.25,-0.7],[11.34,-0.9],[11.84,-0.9]];
const chinaNominalChange: Pt[] = [[0,0.5],[0.11,0.5],[0.16,0],[0.21,0.2],[0.3,0.7],[0.49,0.7],[0.61,0],[10.33,0],[10.4,1],[10.54,1.2],[10.69,0],[10.87,0.2],[10.97,0.2],[11.11,0.2],[11.2,0.1],[11.3,0.3],[11.39,0.4],[11.48,0.6],[11.63,0.7],[11.82,0.7]];

const ROWS = [
  { real: brazilRealChange, infl: brazilInflationDiff, trend: brazilRealTrend, uir: brazilUncoveredReturn, ird: brazilInterestDiff, nom: brazilNominalChange },
  { real: turkeyRealChange, infl: turkeyInflationDiff, trend: turkeyRealTrend, uir: turkeyUncoveredReturn, ird: turkeyInterestDiff, nom: turkeyNominalChange },
  { real: chinaRealChange, infl: chinaInflationDiff, trend: chinaRealTrend, uir: chinaUncoveredReturn, ird: chinaInterestDiff, nom: chinaNominalChange },
];

const C = {
  page: '#c8c6d0', plot: '#eeedec', ink: '#231f20', axis: '#5a5a5a', zero: '#3a3a3a',
  realFill: '#d3e38a', infl: '#00a14b', trend: '#2e3192',
  uir: '#f9cb9b', ird: '#ed1c24', nom: '#2b3192',
};
const FONT = '"Liberation Sans", Arial, Helvetica, sans-serif';

export default function App() {
  const svgRef = useRef<SVGSVGElement>(null);

  useEffect(() => {
    if (!svgRef.current) return;
    const svg = d3.select(svgRef.current);
    svg.selectAll('*').remove();

    const W = 1246, H = 1512;
    svg.attr('width', W).attr('height', H).style('font-family', FONT);

    svg.append('rect').attr('x', 9).attr('y', 7).attr('width', W - 9).attr('height', H - 7).attr('fill', C.page);
    svg.append('rect').attr('x', 9).attr('y', 7).attr('width', W - 9).attr('height', 4).attr('fill', C.ink);

    const ROW_TOP = [55, 526, 997];
    const TITLE_Y = [36, 500, 980];
    const PH = 402;
    const L = { x0: 87, x1: 542 };
    const R = { x0: 746, x1: 1200 };

    const axisBar = (g: any, x: number, top: number, ys: number[]) => {
      g.append('rect').attr('x', x + 0.5).attr('y', top + 0.5).attr('width', 4).attr('height', PH - 1)
        .attr('fill', '#f7f7f7').attr('stroke', C.axis).attr('stroke-width', 1);
      ys.forEach(yy => g.append('line').attr('x1', x).attr('x2', x + 5).attr('y1', yy).attr('y2', yy)
        .attr('stroke', C.axis).attr('stroke-width', 1));
    };

    ROWS.forEach((row, i) => {
      const top = ROW_TOP[i];
      const g = svg.append('g');

      g.append('text').attr('x', 632).attr('y', TITLE_Y[i]).attr('text-anchor', 'middle')
        .attr('font-size', 23).attr('font-weight', 'bold').attr('fill', C.ink).text(COUNTRIES[i]);

      // ── Left panel ─────────────────────────────────────
      const xl = d3.scaleLinear().domain([0, T_END]).range([L.x0, L.x1]);
      const yp = d3.scaleLinear().domain([-10, 10]).range([top + PH - 1, top + 1]);
      const yi = d3.scaleLinear().domain([60, 140]).range([top + PH - 3, top + 5]);

      g.append('rect').attr('x', L.x0).attr('y', top).attr('width', L.x1 - L.x0).attr('height', PH).attr('fill', C.plot);
      const clipL = `clipL${i}`;
      g.append('clipPath').attr('id', clipL).append('rect')
        .attr('x', L.x0).attr('y', top).attr('width', L.x1 - L.x0).attr('height', PH);
      const pl = g.append('g').attr('clip-path', `url(#${clipL})`);

      pl.append('path').datum(row.real).attr('fill', C.realFill)
        .attr('d', d3.area<Pt>().x(d => xl(d[0])).y0(yp(0)).y1(d => yp(d[1])));

      g.append('line').attr('x1', 83).attr('x2', 546).attr('y1', yp(0)).attr('y2', yp(0))
        .attr('stroke', C.zero).attr('stroke-width', 1.5);
      YEARS.slice(1).forEach((_, k) => {
        g.append('line').attr('x1', xl(k + 1)).attr('x2', xl(k + 1)).attr('y1', yp(0) - 5).attr('y2', yp(0))
          .attr('stroke', C.zero).attr('stroke-width', 1);
      });

      pl.append('path').datum(row.infl).attr('fill', 'none').attr('stroke', C.infl)
        .attr('stroke-width', 3).attr('stroke-linejoin', 'round')
        .attr('d', d3.line<Pt>().x(d => xl(d[0])).y(d => yp(d[1])));
      pl.append('path').datum(row.trend).attr('fill', 'none').attr('stroke', C.trend)
        .attr('stroke-width', 2).attr('stroke-dasharray', '8,4.5')
        .attr('d', d3.line<Pt>().x(d => xl(d[0])).y(d => yi(d[1])));

      axisBar(g, 82.5, top, PCT_TICKS.map(v => yp(v)));
      axisBar(g, 541.5, top, INDEX_TICKS.map(v => yi(v)));

      PCT_TICKS.forEach(v => g.append('text').attr('x', 80).attr('y', yp(v) + 6.5).attr('text-anchor', 'end')
        .attr('font-size', 18).attr('fill', C.ink).text(v));
      INDEX_TICKS.forEach(v => g.append('text').attr('x', 551).attr('y', yi(v) + 6.5)
        .attr('font-size', 18).attr('fill', C.ink).text(v));
      YEARS.forEach((yr, k) => g.append('text').attr('x', xl(k + 0.5)).attr('y', top + PH + 19)
        .attr('text-anchor', 'middle').attr('font-size', 15).attr('fill', C.ink).text(yr));

      g.append('text').attr('transform', `translate(55,${top + 191}) rotate(-90)`).attr('text-anchor', 'middle')
        .attr('font-size', 18).attr('fill', C.ink).text('Per cent');
      g.append('text').attr('transform', `translate(603,${top + 205}) rotate(-90)`).attr('text-anchor', 'middle')
        .attr('font-size', 18).attr('fill', C.ink).text('Index numbers, 2000 = 100');

      // ── Right panel ────────────────────────────────────
      const xr = d3.scaleLinear().domain([0, T_END]).range([R.x0, R.x1]);
      const yr2 = d3.scaleLinear().domain([-20, 20]).range([top + PH - 1, top + 1]);

      g.append('rect').attr('x', R.x0).attr('y', top).attr('width', R.x1 - R.x0).attr('height', PH).attr('fill', C.plot);
      const clipR = `clipR${i}`;
      g.append('clipPath').attr('id', clipR).append('rect')
        .attr('x', R.x0).attr('y', top).attr('width', R.x1 - R.x0).attr('height', PH);
      const pr = g.append('g').attr('clip-path', `url(#${clipR})`);

      pr.append('path').datum(row.uir).attr('fill', C.uir)
        .attr('d', d3.area<Pt>().x(d => xr(d[0])).y0(yr2(0)).y1(d => yr2(d[1])));

      g.append('line').attr('x1', 742).attr('x2', R.x1).attr('y1', yr2(0)).attr('y2', yr2(0))
        .attr('stroke', C.zero).attr('stroke-width', 1.5);
      YEARS.slice(1).forEach((_, k) => {
        g.append('line').attr('x1', xr(k + 1)).attr('x2', xr(k + 1)).attr('y1', yr2(0) - 5).attr('y2', yr2(0))
          .attr('stroke', C.zero).attr('stroke-width', 1);
      });

      pr.append('path').datum(row.ird).attr('fill', 'none').attr('stroke', C.ird)
        .attr('stroke-width', 3.5).attr('stroke-linejoin', 'round')
        .attr('d', d3.line<Pt>().x(d => xr(d[0])).y(d => yr2(d[1])));
      pr.append('path').datum(row.nom).attr('fill', 'none').attr('stroke', C.nom)
        .attr('stroke-width', 1.3).attr('stroke-linejoin', 'round')
        .attr('d', d3.line<Pt>().x(d => xr(d[0])).y(d => yr2(d[1])));

      axisBar(g, 741.5, top, RATE_TICKS.map(v => yr2(v)));
      RATE_TICKS.forEach(v => g.append('text').attr('x', 735).attr('y', yr2(v) + 6.5).attr('text-anchor', 'end')
        .attr('font-size', 18).attr('fill', C.ink).text(v));
      YEARS.forEach((yr, k) => g.append('text').attr('x', xr(k + 0.5)).attr('y', top + PH + 19)
        .attr('text-anchor', 'middle').attr('font-size', 15).attr('fill', C.ink).text(yr));
      g.append('text').attr('transform', `translate(702,${top + 196}) rotate(-90)`).attr('text-anchor', 'middle')
        .attr('font-size', 18).attr('fill', C.ink).text('Per cent');
    });

    // ── Legends ──────────────────────────────────────────
    const legend = (x0: number, w: number, labels: string[], kinds: string[]) => {
      const lg = svg.append('g');
      lg.append('rect').attr('x', x0).attr('y', 1433).attr('width', w).attr('height', 73).attr('fill', C.plot);
      const sx = x0 + 27;
      labels.forEach((lab, k) => {
        const cy = 1449 + k * 20;
        const kind = kinds[k];
        if (kind.startsWith('fill:')) {
          lg.append('rect').attr('x', sx).attr('y', cy - 6).attr('width', 62).attr('height', 13).attr('fill', kind.slice(5));
        } else if (kind.startsWith('dash:')) {
          lg.append('line').attr('x1', sx).attr('x2', sx + 62).attr('y1', cy).attr('y2', cy)
            .attr('stroke', kind.slice(5)).attr('stroke-width', 2).attr('stroke-dasharray', '8,4.5');
        } else {
          const [col, sw] = kind.slice(5).split('|');
          lg.append('line').attr('x1', sx).attr('x2', sx + 62).attr('y1', cy).attr('y2', cy)
            .attr('stroke', col).attr('stroke-width', +sw);
        }
        lg.append('text').attr('x', sx + 73).attr('y', cy + 6).attr('font-size', 17.5).attr('fill', C.ink).text(lab);
      });
    };
    legend(87, 456, LEFT_LEGEND, [`fill:${C.realFill}`, `line:${C.infl}|4`, `dash:${C.trend}`]);
    legend(746, 457, RIGHT_LEGEND, [`fill:#fcd0a1`, `line:${C.ird}|4`, `line:${C.nom}|2`]);
  }, []);

  return (
    <div style={{ position: 'absolute', left: 0, top: 0 }}>
      <svg ref={svgRef} style={{ display: 'block' }} />
    </div>
  );
}
